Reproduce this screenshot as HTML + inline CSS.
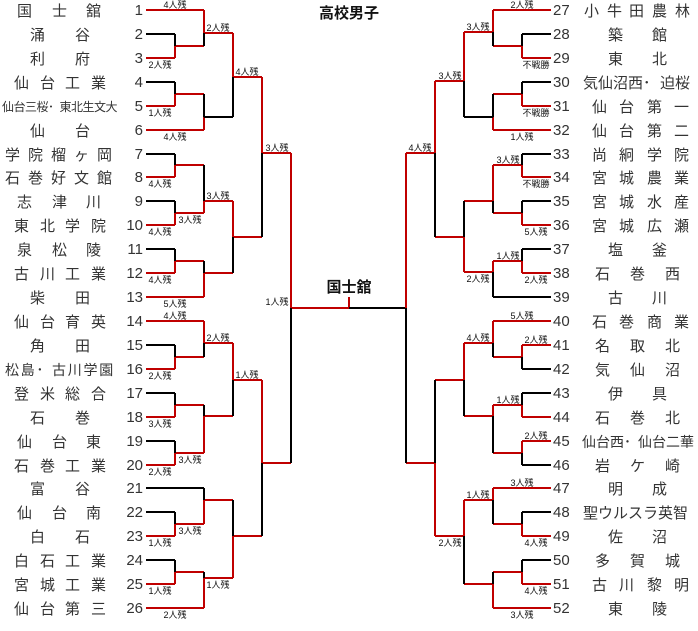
<!DOCTYPE html>
<html><head><meta charset="utf-8"><style>
html,body{margin:0;padding:0;background:#fff;}
svg{display:block;}
.n{font-family:"Liberation Sans","Noto Sans CJK JP",sans-serif;font-size:15px;fill:#333;}
.num{font-family:"Liberation Sans",sans-serif;font-size:15px;fill:#333;}
.lb{font-family:"Liberation Sans","Noto Sans CJK JP",sans-serif;font-size:9px;fill:#111;text-anchor:middle;}
.t{font-family:"Liberation Sans","Noto Sans CJK JP",sans-serif;font-size:15px;font-weight:bold;fill:#111;text-anchor:middle;}
.r{stroke:#c00000;stroke-width:2;fill:none;}
.k{stroke:#000;stroke-width:2;fill:none;}
</style></head><body>
<svg width="698" height="631" viewBox="0 0 698 631" xmlns="http://www.w3.org/2000/svg">
<text class="t" x="349" y="18">高校男子</text>
<text class="t" x="349" y="292">国士舘</text>

<!-- LEFT red -->
<path class="r" d="M146 10H204 M146 58H175 M175 46V58 M175 46H204 M204 10V33 M204 33H233
M146 106H175 M175 94V106 M175 94H204 M146 130H204 M204 117V130
M233 33V77 M233 77H262
M146 177H175 M175 165V177 M175 165H204 M146 225H175 M175 213V225 M175 213H204
M204 201V213 M204 201H233
M146 273H175 M175 261V273 M175 261H204 M146 297H204 M204 273V297 M204 273H233
M233 201V237 M233 237H262 M262 77V153 M262 153H291
M146 321H204 M146 369H175 M175 357V369 M175 357H204 M204 321V343 M204 343H233
M146 417H175 M175 405V417 M175 405H204 M146 465H175 M175 453V465 M175 453H204
M204 416V453 M204 416H233 M233 343V380 M233 380H262
M146 536H175 M175 524V536 M175 524H204 M204 500V524 M204 500H233
M146 584H175 M175 572V584 M175 572H204 M146 608H204 M204 578V608 M204 578H233
M233 536V578 M233 536H262 M262 380V463 M262 463H291
M291 153V308 M291 308H349 M349 297V308"/>
<!-- LEFT black -->
<path class="k" d="M146 34H175 M175 34V46 M204 33V46 M146 82H175 M175 82V94 M204 94V117 M204 117H233 M233 77V117
M146 154H175 M175 154V165 M146 201H175 M175 201V213 M204 165V201
M146 249H175 M175 249V261 M204 261V273 M233 237V273 M262 153V237
M146 345H175 M175 345V357 M204 343V357 M146 393H175 M175 393V405 M146 441H175 M175 441V453
M204 405V416 M233 380V416
M146 488H204 M204 488V500 M146 512H175 M175 512V524 M146 560H175 M175 560V572 M204 572V578
M233 500V536 M262 463V536 M291 308V463 M349 308H406"/>

<!-- RIGHT red -->
<path class="r" d="M551 10H493 M551 58H522 M522 46V58 M522 46H493 M493 10V32 M493 32H464
M551 106H522 M522 94V106 M522 94H493 M551 130H493 M493 117V130
M464 32V81 M464 81H435
M551 177H522 M522 165V177 M522 165H493 M551 225H522 M522 213V225 M522 213H493
M493 165V201 M493 201H464
M551 273H522 M522 261V273 M522 261H493 M493 261V272 M493 272H464
M464 237V272 M464 237H435 M435 81V153 M435 153H406
M551 321H493 M551 345H522 M522 345V357 M522 357H493 M493 321V343 M493 343H464
M551 417H522 M522 405V417 M522 405H493 M551 441H522 M522 441V453 M522 453H493
M493 405V416 M493 416H464 M464 343V380 M464 380H435
M551 488H493 M551 536H522 M522 524V536 M522 524H493 M493 488V500 M493 500H464
M551 584H522 M522 572V584 M522 572H493 M551 608H493 M493 584V608 M493 584H464
M464 500V536 M464 536H435 M435 463V536 M435 463H406
M406 153V308"/>
<!-- RIGHT black -->
<path class="k" d="M551 34H522 M522 34V46 M493 32V46 M551 82H522 M522 82V94 M493 94V117 M493 117H464 M464 81V117
M551 154H522 M522 154V165 M551 201H522 M522 201V213 M493 201V213
M551 249H522 M522 249V261 M551 297H493 M493 272V297 M464 201V237 M435 153V237
M551 369H522 M522 357V369 M493 343V357 M551 393H522 M522 393V405 M551 465H522 M522 453V465
M493 416V453 M464 380V416 M435 380V463
M551 512H522 M522 512V524 M493 500V524 M551 560H522 M522 560V572 M493 572V584 M464 536V584
M406 308V463"/>

<!-- labels left -->
<g class="lb">
<text x="175" y="8">4人残</text><text x="160" y="68">2人残</text><text x="160" y="116">1人残</text>
<text x="175" y="140">4人残</text><text x="218" y="31">2人残</text><text x="247" y="75">4人残</text>
<text x="160" y="187">4人残</text><text x="190" y="223">3人残</text><text x="160" y="235">4人残</text>
<text x="218" y="199">3人残</text><text x="160" y="283">4人残</text><text x="175" y="307">5人残</text>
<text x="277" y="151">3人残</text><text x="277" y="305">1人残</text><text x="175" y="319">4人残</text>
<text x="160" y="379">2人残</text><text x="218" y="341">2人残</text><text x="160" y="427">3人残</text>
<text x="190" y="463">3人残</text><text x="160" y="475">2人残</text><text x="247" y="378">1人残</text>
<text x="160" y="546">1人残</text><text x="190" y="534">3人残</text><text x="160" y="594">1人残</text>
<text x="175" y="618">2人残</text><text x="218" y="588">1人残</text>
<!-- labels right -->
<text x="522" y="8">2人残</text><text x="536" y="68">不戦勝</text><text x="478" y="30">3人残</text>
<text x="536" y="116">不戦勝</text><text x="522" y="140">1人残</text><text x="450" y="79">3人残</text>
<text x="420" y="151">4人残</text><text x="508" y="163">3人残</text><text x="536" y="187">不戦勝</text>
<text x="536" y="235">5人残</text><text x="508" y="259">1人残</text><text x="536" y="283">2人残</text>
<text x="478" y="282">2人残</text><text x="522" y="319">5人残</text><text x="536" y="343">2人残</text>
<text x="478" y="341">4人残</text><text x="508" y="403">1人残</text><text x="536" y="439">2人残</text>
<text x="522" y="486">3人残</text><text x="478" y="498">1人残</text><text x="536" y="546">4人残</text>
<text x="536" y="594">4人残</text><text x="522" y="618">3人残</text><text x="450" y="546">2人残</text>
</g>

<!-- numbers left -->
<g class="num" text-anchor="end">
<text x="143" y="15">1</text><text x="143" y="39">2</text><text x="143" y="63">3</text><text x="143" y="87">4</text>
<text x="143" y="111">5</text><text x="143" y="135">6</text><text x="143" y="159">7</text><text x="143" y="182">8</text>
<text x="143" y="206">9</text><text x="143" y="230">10</text><text x="143" y="254">11</text><text x="143" y="278">12</text>
<text x="143" y="302">13</text><text x="143" y="326">14</text><text x="143" y="350">15</text><text x="143" y="374">16</text>
<text x="143" y="398">17</text><text x="143" y="422">18</text><text x="143" y="446">19</text><text x="143" y="470">20</text>
<text x="143" y="493">21</text><text x="143" y="517">22</text><text x="143" y="541">23</text><text x="143" y="565">24</text>
<text x="143" y="589">25</text><text x="143" y="613">26</text>
</g>
<!-- numbers right -->
<g class="num">
<text x="553" y="15">27</text><text x="553" y="39">28</text><text x="553" y="63">29</text><text x="553" y="87">30</text>
<text x="553" y="111">31</text><text x="553" y="135">32</text><text x="553" y="159">33</text><text x="553" y="182">34</text>
<text x="553" y="206">35</text><text x="553" y="230">36</text><text x="553" y="254">37</text><text x="553" y="278">38</text>
<text x="553" y="302">39</text><text x="553" y="326">40</text><text x="553" y="350">41</text><text x="553" y="374">42</text>
<text x="553" y="398">43</text><text x="553" y="422">44</text><text x="553" y="446">45</text><text x="553" y="470">46</text>
<text x="553" y="493">47</text><text x="553" y="517">48</text><text x="553" y="541">49</text><text x="553" y="565">50</text>
<text x="553" y="589">51</text><text x="553" y="613">52</text>
</g>

<!-- names left -->
<g class="n">
<text x="17 52 86" y="16">国士舘</text>
<text x="30 75" y="40">涌谷</text>
<text x="30 75" y="64">利府</text>
<text x="14 40 65 91" y="88">仙台工業</text>
<text x="2 13.5 25 36.5 48 59.5 71 82.5 94 105.5" y="111" style="font-size:12px">仙台三桜･東北生文大</text>
<text x="30 75" y="136">仙台</text>
<text x="5 28 51 74 97" y="160">学院榴ヶ岡</text>
<text x="5 28 51 74 97" y="183">石巻好文館</text>
<text x="17 52 86" y="207">志津川</text>
<text x="14 40 65 91" y="231">東北学院</text>
<text x="17 52 86" y="255">泉松陵</text>
<text x="14 40 65 91" y="279">古川工業</text>
<text x="30 75" y="303">柴田</text>
<text x="14 40 65 91" y="327">仙台育英</text>
<text x="30 75" y="351">角田</text>
<text x="5 20.7 36.4 52 67.8 83.5 99.2" y="375" style="font-size:14px">松島･古川学園</text>
<text x="14 40 65 91" y="399">登米総合</text>
<text x="30 75" y="423">石巻</text>
<text x="17 52 86" y="447">仙台東</text>
<text x="14 40 65 91" y="471">石巻工業</text>
<text x="30 75" y="494">富谷</text>
<text x="17 52 86" y="518">仙台南</text>
<text x="30 75" y="542">白石</text>
<text x="14 40 65 91" y="566">白石工業</text>
<text x="14 40 65 91" y="590">宮城工業</text>
<text x="14 40 65 91" y="614">仙台第三</text>
</g>
<!-- names right -->
<g class="n">
<text x="584 607 629 652 675" y="16">小牛田農林</text>
<text x="608 652" y="40">築館</text>
<text x="608 652" y="64">東北</text>
<text x="583 598 613 628 643 660 675" y="88">気仙沼西･迫桜</text>
<text x="592 619 647 674" y="112">仙台第一</text>
<text x="592 619 647 674" y="136">仙台第二</text>
<text x="592 619 647 674" y="160">尚絅学院</text>
<text x="592 619 647 674" y="183">宮城農業</text>
<text x="592 619 647 674" y="207">宮城水産</text>
<text x="592 619 647 674" y="231">宮城広瀬</text>
<text x="608 652" y="255">塩釜</text>
<text x="595 630 665" y="279">石巻西</text>
<text x="608 652" y="303">古川</text>
<text x="592 619 647 674" y="327">石巻商業</text>
<text x="595 630 665" y="351">名取北</text>
<text x="595 630 665" y="375">気仙沼</text>
<text x="608 652" y="399">伊具</text>
<text x="595 630 665" y="423">石巻北</text>
<text x="582 596 610 624 638 652 666 680" y="447" style="font-size:14px">仙台西･仙台二華</text>
<text x="595 630 665" y="471">岩ケ崎</text>
<text x="608 652" y="494">明成</text>
<text x="583 598 613 628 643 658 673" y="518">聖ウルスラ英智</text>
<text x="608 652" y="542">佐沼</text>
<text x="595 630 665" y="566">多賀城</text>
<text x="592 619 647 674" y="590">古川黎明</text>
<text x="608 652" y="614">東陵</text>
</g>
</svg>
</body></html>
